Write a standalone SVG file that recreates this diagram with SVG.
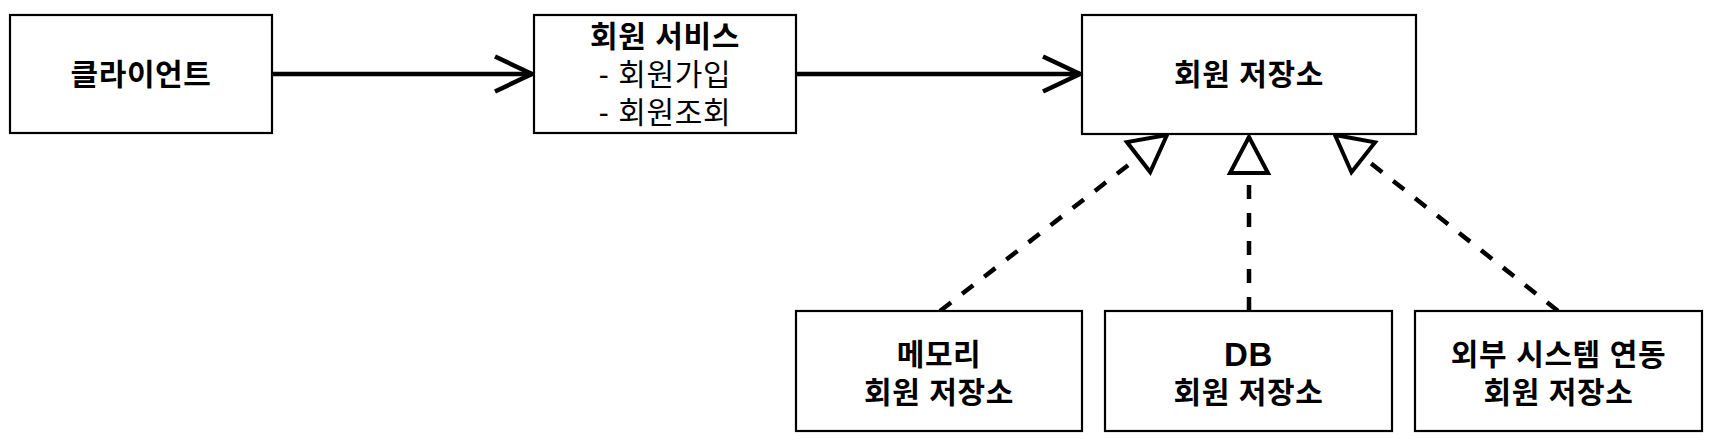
<svg xmlns="http://www.w3.org/2000/svg" width="1718" height="442" viewBox="0 0 1718 442">
<style>
.box{fill:#fff;stroke:#000;stroke-width:2.2}
.t{font-family:"Liberation Sans","Noto Sans CJK KR",sans-serif;font-size:30px;text-anchor:middle;fill:#000;letter-spacing:0.6px}
.b{font-weight:700}
.solid{fill:none;stroke:#000;stroke-width:4.5}
.dash{fill:none;stroke:#000;stroke-width:4.5;stroke-dasharray:14 14}
</style>
<defs>
<marker id="open" markerUnits="userSpaceOnUse" orient="auto" markerWidth="60" markerHeight="60" refX="0" refY="0" viewBox="-45 -30 60 60" overflow="visible">
<path d="M-37,-17.5 L0,0 L-37,17.5" fill="none" stroke="#000" stroke-width="4.5"/>
</marker>
<marker id="tri" markerUnits="userSpaceOnUse" orient="auto" markerWidth="60" markerHeight="60" refX="0" refY="0" viewBox="-45 -30 60 60" overflow="visible">
<path d="M0,0 L-36,-19 L-36,19 Z" fill="#fff" stroke="#000" stroke-width="4" stroke-dasharray="none"/>
</marker>
</defs>
<g id="connectors">
<line class="solid" x1="272" y1="74" x2="532" y2="74" marker-end="url(#open)"/>
<line class="solid" x1="796" y1="74" x2="1080" y2="74" marker-end="url(#open)"/>
<line class="dash" x1="940" y1="311" x2="1167" y2="135" marker-end="url(#tri)"/>
<line class="dash" x1="1249" y1="311" x2="1249" y2="137" marker-end="url(#tri)"/>
<line class="dash" x1="1558" y1="311" x2="1335" y2="135" marker-end="url(#tri)"/>
</g>
<g id="client">
<rect class="box" x="10" y="15" width="262" height="118"/>
<text class="t b" x="141" y="85">클라이언트</text>
</g>
<g id="service">
<rect class="box" x="534" y="15" width="262" height="118"/>
<text class="t b" x="665" y="47">회원 서비스</text>
<text class="t" x="665" y="85">- 회원가입</text>
<text class="t" x="665" y="123">- 회원조회</text>
</g>
<g id="repository">
<rect class="box" x="1082" y="15" width="334" height="119"/>
<text class="t b" x="1249" y="85">회원 저장소</text>
</g>
<g id="memory">
<rect class="box" x="796" y="311" width="286" height="120"/>
<text class="t b" x="939" y="365">메모리</text>
<text class="t b" x="939" y="403">회원 저장소</text>
</g>
<g id="db">
<rect class="box" x="1105" y="311" width="287" height="120"/>
<text class="t b" x="1248.5" y="366" style="font-size:33px">DB</text>
<text class="t b" x="1248.5" y="403">회원 저장소</text>
</g>
<g id="external">
<rect class="box" x="1415" y="311" width="287" height="120"/>
<text class="t b" x="1558.5" y="365">외부 시스템 연동</text>
<text class="t b" x="1558.5" y="403">회원 저장소</text>
</g>
</svg>
